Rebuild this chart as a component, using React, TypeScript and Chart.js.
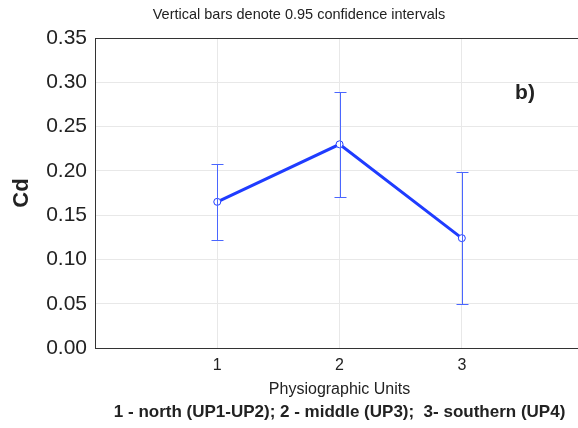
import React, { useEffect, useRef } from "react";
import { Chart, registerables } from "chart.js";

Chart.register(...registerables);

const units = [1, 2, 3];
const meanCd = [0.165, 0.23, 0.124];
const lowerCd = [0.122, 0.17, 0.05];
const upperCd = [0.208, 0.289, 0.199];
const yTicks = [0, 0.05, 0.1, 0.15, 0.2, 0.25, 0.3, 0.35];

const FONT = "'Liberation Sans', Arial, sans-serif";

const overlay = {
  id: "overlay",
  afterDatasetsDraw(chart: any) {
    const ctx = chart.ctx;
    const x = chart.scales.x;
    const y = chart.scales.y;
    ctx.save();
    ctx.strokeStyle = "#4a66ff";
    ctx.lineWidth = 1;
    for (let i = 0; i < units.length; i++) {
      const px = Math.round(x.getPixelForValue(units[i])) + 0.5;
      const pt = Math.round(y.getPixelForValue(upperCd[i])) + 0.5;
      const pb = Math.round(y.getPixelForValue(lowerCd[i])) + 0.5;
      ctx.beginPath();
      ctx.moveTo(px, pt);
      ctx.lineTo(px, pb);
      ctx.moveTo(px - 6, pt);
      ctx.lineTo(px + 6, pt);
      ctx.moveTo(px - 6, pb);
      ctx.lineTo(px + 6, pb);
      ctx.stroke();
    }
    ctx.restore();
  },
  afterDraw(chart: any) {
    const ctx = chart.ctx;
    const ca = chart.chartArea;
    const x = chart.scales.x;
    ctx.save();
    ctx.strokeStyle = "#333";
    ctx.lineWidth = 1;
    ctx.beginPath();
    ctx.moveTo(ca.left, Math.round(ca.top) + 0.5);
    ctx.lineTo(ca.right, Math.round(ca.top) + 0.5);
    ctx.stroke();

    ctx.fillStyle = "#222";
    ctx.textAlign = "center";
    ctx.textBaseline = "middle";
    ctx.font = `14.5px ${FONT}`;
    ctx.fillText("Vertical bars denote 0.95 confidence intervals", 299, 15);

    const cx = x.getPixelForValue(2);
    ctx.font = `16px ${FONT}`;
    ctx.fillText("Physiographic Units", cx, 390);
    ctx.font = `bold 17px ${FONT}`;
    ctx.fillText("1 - north (UP1-UP2); 2 - middle (UP3);  3- southern (UP4)", cx, 412);

    ctx.font = `bold 21px ${FONT}`;
    ctx.fillText("b)", 525, 93);

    ctx.save();
    ctx.translate(22, 193);
    ctx.rotate(-Math.PI / 2);
    ctx.font = `bold 22px ${FONT}`;
    ctx.fillText("Cd", 0, 0);
    ctx.restore();
    ctx.restore();
  },
};

export default function App() {
  const ref = useRef<HTMLCanvasElement | null>(null);
  useEffect(() => {
    if (!ref.current) return;
    const chart = new Chart(ref.current, {
      type: "line",
      data: {
        datasets: [
          {
            data: units.map((u, i) => ({ x: u, y: meanCd[i] })),
            borderColor: "#1f3cff",
            borderWidth: 3,
            pointRadius: 3.5,
            pointBackgroundColor: "#ffffff",
            pointBorderColor: "#1f3cff",
            pointBorderWidth: 1,
            tension: 0,
          },
        ],
      },
      options: {
        animation: false,
        responsive: false,
        devicePixelRatio: 1,
        layout: { autoPadding: false, padding: { top: 38, right: 0, left: 0, bottom: 0 } },
        plugins: { legend: { display: false }, tooltip: { enabled: false }, title: { display: false } },
        scales: {
          x: {
            type: "linear",
            min: 0,
            max: 3.95,
            afterBuildTicks: (s: any) => {
              s.ticks = units.map((v) => ({ value: v }));
            },
            afterFit: (s: any) => {
              s.height = 80;
              s.paddingLeft = 0;
              s.paddingRight = 0;
            },
            grid: { color: "#e8e8e8", drawTicks: false },
            border: { color: "#333", width: 1 },
            ticks: {
              padding: 8,
              color: "#222",
              font: { family: FONT, size: 16 },
              callback: (v: any) => String(v),
            },
          },
          y: {
            min: 0,
            max: 0.35,
            afterBuildTicks: (s: any) => {
              s.ticks = yTicks.map((v) => ({ value: v }));
            },
            afterFit: (s: any) => {
              s.width = 95;
              s.paddingTop = 0;
              s.paddingBottom = 0;
            },
            grid: { color: "#e8e8e8", drawTicks: false },
            border: { color: "#333", width: 1 },
            ticks: {
              padding: 8,
              color: "#222",
              font: { family: FONT, size: 21 },
              callback: (v: any) => Number(v).toFixed(2),
            },
          },
        },
      },
      plugins: [overlay],
    });
    return () => chart.destroy();
  }, []);
  return (
    <div style={{ position: "fixed", left: 0, top: 0, width: 578, height: 428, background: "#fff" }}>
      <canvas ref={ref} width={578} height={428} style={{ display: "block" }} />
    </div>
  );
}
